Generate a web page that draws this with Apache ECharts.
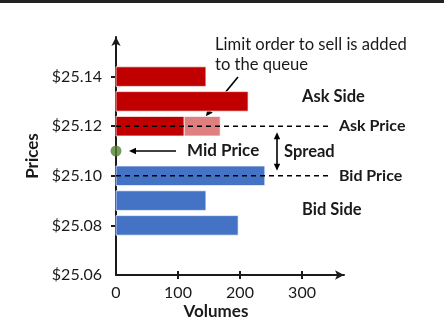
<!DOCTYPE html>
<html><head><meta charset="utf-8">
<script src="https://cdn.jsdelivr.net/npm/echarts@6/dist/echarts.min.js"></script>
<style>html,body{margin:0;padding:0;background:#fff}#c{width:444px;height:320px}</style>
</head><body><div id="c"></div>
<script>
// ---- data ----
const askPrices = [25.14, 25.13, 25.12];
const askVolumes = [145, 213, 110];
const newOrderPrice = 25.12;
const newOrderVolume = 58;
const bidPrices = [25.10, 25.09, 25.08];
const bidVolumes = [240, 145, 197];
const midPrice = 25.11;
const askPrice = 25.12;
const bidPrice = 25.10;
const yTickValues = [25.08, 25.10, 25.12, 25.14];
const yLabelValues = [25.06, 25.08, 25.10, 25.12, 25.14];
const xTickValues = [100, 200, 300];
const xLabelValues = [0, 100, 200, 300];
const priceLineEnd = 345;

const FONT = 'Lato';
const INK = '#1a1a1a';

const askData = askPrices.map((p, i) => [0, askVolumes[i], p]);
const newData = [[askVolumes[askPrices.indexOf(newOrderPrice)], askVolumes[askPrices.indexOf(newOrderPrice)] + newOrderVolume, newOrderPrice]];
const bidData = bidPrices.map((p, i) => [0, bidVolumes[i], p]);

function barItem(params, api) {
  const p = api.value(2);
  const a = api.coord([api.value(0), p]);
  const b = api.coord([api.value(1), p]);
  const h = api.size([0, 0.0079])[1];
  return {
    type: 'rect',
    shape: { x: a[0], y: a[1] - h / 2, width: b[0] - a[0], height: h },
    style: { fill: api.visual('color'), stroke: 'rgba(255,255,255,0.7)', lineWidth: 1 }
  };
}

const X_MIN = 0, X_MAX = 367.7, Y_MIN = 25.06, Y_MAX = 25.15597;

const chart = echarts.init(document.getElementById('c'), null, { renderer: 'canvas' });
chart.setOption({
  animation: false,
  backgroundColor: '#fff',
  grid: { left: 116, right: 100, top: 37, bottom: 45 },
  xAxis: [{
    type: 'value', min: X_MIN, max: X_MAX,
    axisLine: { show: true, symbol: ['none', 'arrow'], symbolSize: [7, 9], lineStyle: { color: INK, width: 2 } },
    axisTick: { show: true, length: 4, customValues: xTickValues, lineStyle: { color: INK, width: 2 } },
    axisLabel: { customValues: xLabelValues, color: INK, fontFamily: FONT, fontSize: 16, margin: 10 },
    splitLine: { show: false }
  }, {
    type: 'value', min: X_MIN, max: X_MAX, position: 'bottom',
    axisLine: { show: false },
    axisTick: { show: true, inside: true, length: 4, customValues: xTickValues, lineStyle: { color: INK, width: 2 } },
    axisLabel: { show: false }, splitLine: { show: false }
  }],
  yAxis: [{
    type: 'value', min: Y_MIN, max: Y_MAX,
    name: 'Prices', nameLocation: 'middle', nameGap: 69, nameRotate: 90,
    nameTextStyle: { fontFamily: FONT, fontWeight: 'bold', fontSize: 17, color: INK },
    axisLine: { show: true, symbol: ['none', 'arrow'], symbolSize: [7, 9], lineStyle: { color: INK, width: 2 } },
    axisTick: { show: true, length: 5, customValues: yTickValues, lineStyle: { color: INK, width: 2 } },
    axisLabel: { customValues: yLabelValues, color: INK, fontFamily: FONT, fontSize: 16, margin: 14,
      formatter: v => '$' + v.toFixed(2) },
    splitLine: { show: false }
  }, {
    type: 'value', min: Y_MIN, max: Y_MAX, position: 'left',
    axisLine: { show: false },
    axisTick: { show: true, inside: true, length: 6, customValues: yTickValues, lineStyle: { color: INK, width: 2 } },
    axisLabel: { show: false }, splitLine: { show: false }
  }],
  series: [
    { type: 'custom', name: 'Ask', renderItem: barItem, data: askData, encode: { x: [0, 1], y: 2 }, itemStyle: { color: '#C00000' }, z: 2 },
    { type: 'custom', name: 'New order', renderItem: barItem, data: newData, encode: { x: [0, 1], y: 2 }, itemStyle: { color: '#E07F80' }, z: 2 },
    { type: 'custom', name: 'Bid', renderItem: barItem, data: bidData, encode: { x: [0, 1], y: 2 }, itemStyle: { color: '#4472C4' }, z: 2 },
    { type: 'line', name: 'Ask Price', data: [[0, askPrice], [priceLineEnd, askPrice]], symbol: 'none', z: 5,
      lineStyle: { color: '#000', width: 1.6, type: [5, 4] },
      endLabel: { show: true, formatter: 'Ask Price', distance: 9, fontFamily: FONT, fontWeight: 'bold', fontSize: 16, color: INK } },
    { type: 'line', name: 'Bid Price', data: [[0, bidPrice], [priceLineEnd, bidPrice]], symbol: 'none', z: 5,
      lineStyle: { color: '#000', width: 1.6, type: [5, 4] },
      endLabel: { show: true, formatter: 'Bid Price', distance: 9, fontFamily: FONT, fontWeight: 'bold', fontSize: 16, color: INK } },
    { type: 'scatter', name: 'Mid Price', data: [[0, midPrice]], symbolSize: 11, itemStyle: { color: '#548235' }, z: 10 }
  ]
});

function arrowShapes(x1, y1, x2, y2, both) {
  const out = [];
  const L = 7, W = 3.2;
  const dx = x2 - x1, dy = y2 - y1, len = Math.hypot(dx, dy);
  const ux = dx / len, uy = dy / len;
  const head = (tx, ty, sx, sy) => ({
    type: 'polygon', shape: { points: [[tx, ty], [tx - sx * L - sy * W, ty - sy * L + sx * W], [tx - sx * L + sy * W, ty - sy * L - sx * W]] },
    style: { fill: '#000' }
  });
  const s0 = both ? [x1 + ux * L * 0.8, y1 + uy * L * 0.8] : [x1, y1];
  const s1 = [x2 - ux * L * 0.8, y2 - uy * L * 0.8];
  out.push({ type: 'line', shape: { x1: s0[0], y1: s0[1], x2: s1[0], y2: s1[1] }, style: { stroke: '#000', lineWidth: 1.6 } });
  out.push(head(x2, y2, ux, uy));
  if (both) out.push(head(x1, y1, -ux, -uy));
  return out;
}

const pAsk = chart.convertToPixel({ gridIndex: 0 }, [0, askPrice]);
const pBid = chart.convertToPixel({ gridIndex: 0 }, [0, bidPrice]);
const pMid = chart.convertToPixel({ gridIndex: 0 }, [0, midPrice]);
const pNew = chart.convertToPixel({ gridIndex: 0 }, [askVolumes[2] + newOrderVolume * 0.6, newOrderPrice]);
const spreadX = 277;

const txt = (x, y, s, bold, size, align) => ({
  type: 'text', x, y, style: { text: s, fill: INK, font: (bold ? 'bold ' : '') + size + 'px ' + FONT, align: align || 'left', verticalAlign: 'middle' }
});

const g = [
  { type: 'rect', shape: { x: 0, y: 0, width: 444, height: 3 }, style: { fill: '#222' } },
  txt(216, 312, 'Volumes', true, 17, 'center'),
  txt(215, 45, 'Limit order to sell is added', false, 16.6),
  txt(215, 65, 'to the queue', false, 16.6),
  txt(302, 97, 'Ask Side', true, 16.5),
  txt(302, 210, 'Bid Side', true, 16.5),
  txt(187, pMid[1], 'Mid Price', true, 17),
  txt(284, (pAsk[1] + pBid[1]) / 2 + 1, 'Spread', true, 16.5),
  ...arrowShapes(176, pMid[1], 129, pMid[1], false),
  ...arrowShapes(spreadX, pAsk[1] + 6, spreadX, pBid[1] - 5, true),
  ...arrowShapes(238, 77, pNew[0], pNew[1] - 10, false)
];
chart.setOption({ graphic: g });
</script>
</body></html>
